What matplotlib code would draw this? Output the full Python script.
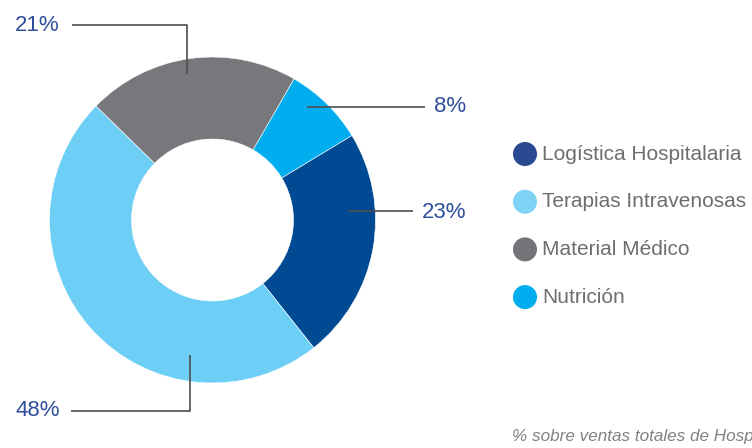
"""Donut chart: share of sales by business line, with leader-line labels."""
import numpy as np
import matplotlib
matplotlib.use("Agg")
import matplotlib.pyplot as plt

# slice order is clockwise, starting at the top-right
segments = ["Nutrición", "Logística Hospitalaria", "Terapias Intravenosas", "Material Médico"]
shares = [8, 23, 48, 21]
pct_labels = ["8%", "23%", "48%", "21%"]

legend_order = ["Logística Hospitalaria", "Terapias Intravenosas", "Material Médico", "Nutrición"]
footnote = "% sobre ventas totales de Hospira"

colors = {"Nutrición": "#00AEEF", "Logística Hospitalaria": "#004A93",
          "Terapias Intravenosas": "#6DCFF6", "Material Médico": "#77787B"}
legend_colors = {"Nutrición": "#00AEEF", "Logística Hospitalaria": "#294A92",
                 "Terapias Intravenosas": "#7FD4F6", "Material Médico": "#737477"}

W, H = 752, 448
plt.rcParams["font.family"] = ["Liberation Sans Narrow", "Liberation Sans", "DejaVu Sans"]

fig = plt.figure(figsize=(W / 100, H / 100), dpi=100)
ax = fig.add_axes([0, 0, 1, 1])

def py(y):  # pixel-row -> data y
    return H - y

cx, cy, R, r_in = 212.5, py(220), 163, 81
ax.pie(shares, colors=[colors[s] for s in segments], startangle=60,
       counterclock=False, center=(cx, cy), radius=R,
       wedgeprops=dict(width=R - r_in, edgecolor="white", linewidth=0.4),
       frame=True)
ax.set_xlim(0, W)
ax.set_ylim(0, H)
ax.set_aspect("equal")
ax.axis("off")

line_kw = dict(color="#4D4D4F", lw=1.2, solid_capstyle="butt")
lab_kw = dict(color="#2E4D9B", fontsize=16, va="center")

# leader lines (pixel geometry)
ax.plot([72, 187, 187], [py(25), py(25), py(74)], **line_kw)           # 21%
ax.plot([307, 425], [py(107), py(107)], **line_kw)                     # 8%
ax.plot([349, 413], [py(211), py(211)], **line_kw)                     # 23%
ax.plot([71, 190, 190], [py(411), py(411), py(355)], **line_kw)        # 48%

ax.text(15, py(25), pct_labels[3], ha="left", **lab_kw)
ax.text(466, py(106), pct_labels[0], ha="right", **lab_kw)
ax.text(466, py(212), pct_labels[1], ha="right", **lab_kw)
ax.text(15, py(411), pct_labels[2], ha="left", **lab_kw)

# legend
for i, name in enumerate(legend_order):
    y = py(154 + i * 47.7)
    ax.scatter([525], [y], s=300, color=legend_colors[name], edgecolors="none")
    ax.text(542, y, name, color="#6D6E71", fontsize=15, va="center", ha="left")

ax.text(512, py(437), footnote, color="#808285", fontsize=12.3, style="italic",
        va="center", ha="left", clip_on=True)

fig.savefig("out.png", dpi=100)
